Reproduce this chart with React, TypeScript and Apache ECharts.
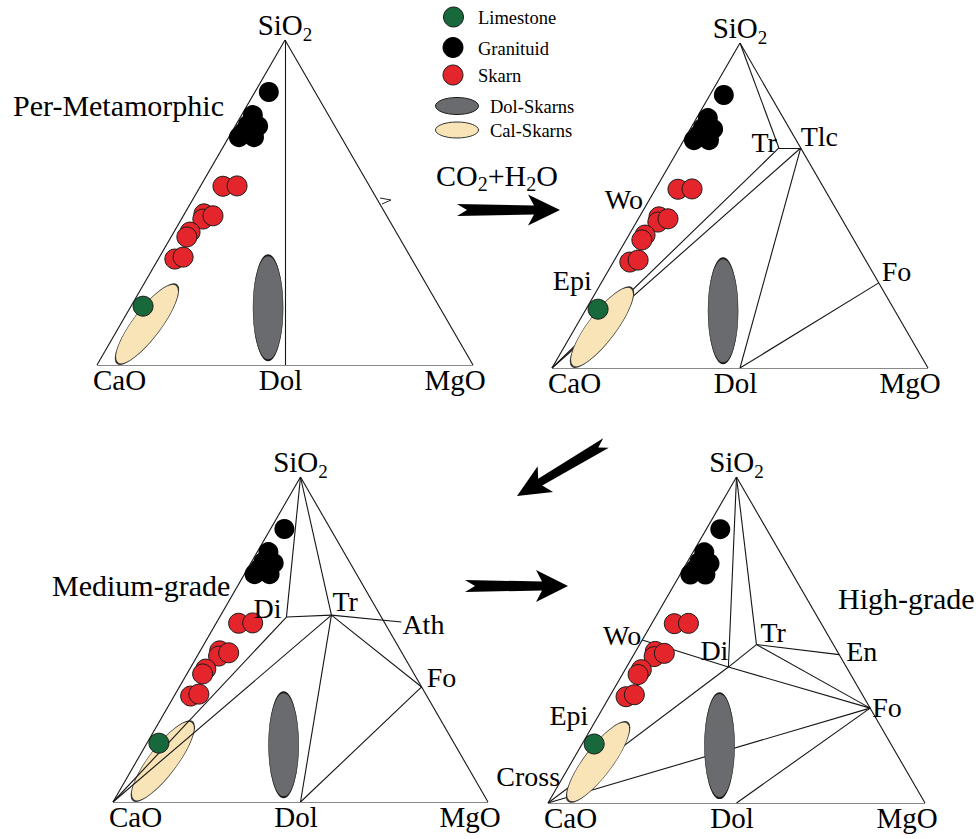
import React, { useEffect, useRef } from 'react';
import * as echarts from 'echarts';

const FONT = '"Liberation Serif", "Times New Roman", Times, serif';

// ---- Data: ternary compositions [CaO, MgO, SiO2] (%) ----
const vertexComps: Record<string, number[]> = {
  CaO: [100, 0, 0],
  MgO: [0, 100, 0],
  SiO2: [0, 0, 100],
  Dol: [50, 50, 0],
};

const limestone = [[78.7, 3.2, 18.1]];
const granituid = [
  [12.3, 3.7, 84.0],
  [20.1, 3.0, 76.9],
  [22.9, 3.2, 73.9],
  [20.4, 6.1, 73.5],
  [27.2, 2.7, 70.1],
  [23.2, 6.7, 70.1],
  [25.1, 3.2, 71.7],
];
const skarn = [
  [39.0, 6.0, 55.0],
  [35.2, 9.7, 55.1],
  [48.3, 5.2, 46.5],
  [49.4, 5.7, 44.9],
  [46.2, 7.9, 45.9],
  [54.8, 4.3, 40.9],
  [56.4, 4.2, 39.4],
  [63.0, 4.4, 32.6],
  [60.5, 6.3, 33.2],
];
const dolSkarns = [[45.7, 36.7, 17.6]];
const calSkarns = [[80.4, 7.0, 12.6]];

// mineral phases per panel
const panel1Minerals: Record<string, number[]> = {};
const panel2Minerals: Record<string, number[]> = {
  Tr: [5.8, 26.5, 67.7],
  Tlc: [0, 32.3, 67.7],
  Wo: [50, 0, 50],
  Epi: [73, 0, 27],
  Fo: [0, 73.8, 26.2],
};
const panel3Minerals: Record<string, number[]> = {
  Di: [25.3, 17.8, 56.9],
  Tr: [13.0, 29.5, 57.5],
  Ath: [-4.6, 49.2, 55.4],
  Fo: [0, 64.6, 35.4],
};
const panel4Minerals: Record<string, number[]> = {
  Wo: [50, 0, 50],
  Di: [31.3, 27.0, 41.7],
  Tr: [20.4, 31.0, 48.6],
  En: [0, 54.5, 45.5],
  Fo: [0, 70.9, 29.1],
  Epi: [73.3, 0, 26.7],
  Cross: [92, 0, 8],
};

const outlineEdges = [['CaO', 'MgO'], ['MgO', 'SiO2'], ['SiO2', 'CaO']];
const panel1Tielines = [['SiO2', 'Dol']];
const panel2Tielines = [['SiO2', 'Tr'], ['Tr', 'Tlc'], ['CaO', 'Tr'], ['CaO', 'Tlc'], ['Tlc', 'Dol'], ['Dol', 'Fo']];
const panel3Tielines = [['SiO2', 'Di'], ['SiO2', 'Tr'], ['Di', 'Tr'], ['Tr', 'Ath'], ['Tr', 'Fo'], ['Tr', 'Dol'], ['Dol', 'Fo'], ['CaO', 'Di'], ['CaO', 'Tr']];
const panel4Tielines = [['SiO2', 'Di'], ['SiO2', 'Tr'], ['Wo', 'Di'], ['Di', 'Fo'], ['Di', 'Tr'], ['Tr', 'En'], ['Tr', 'Fo'], ['CaO', 'Di'], ['CaO', 'Fo'], ['Dol', 'Fo']];

const panelTitles = ['Per-Metamorphic', '', 'Medium-grade', 'High-grade'];
const legendNames = ['Limestone', 'Granituid', 'Skarn', 'Dol-Skarns', 'Cal-Skarns'];

// ---- Layout / style (not data) ----
type LL = [string, number, number];
const vertexLabelLayout: Record<string, LL> = {
  SiO2: ['center', 0, -15],
  CaO: ['left', -4, 15],
  Dol: ['center', -4.5, 15],
  MgO: ['center', -18, 15],
};
const mineralLabelLayout: Record<string, LL>[] = [
  {},
  { Tr: ['right', -2, -5], Tlc: ['left', 0, -11], Fo: ['left', 3, -11], Wo: ['right', -3, -6], Epi: ['right', -11, 0] },
  { Di: ['right', -5, -9], Tr: ['left', 1, -14], Ath: ['left', 1, 3], Fo: ['left', 5, -9] },
  { Wo: ['right', -1, -5], Di: ['right', 0, -17], Tr: ['left', 4, -12], En: ['left', 7, -3], Fo: ['left', 2, -1], Epi: ['right', -10, 0], Cross: ['right', -3, 0] },
];

const PANELS = [
  { grid: { left: 97, top: 40, width: 376, height: 325 }, minerals: panel1Minerals, tielines: panel1Tielines, linesOnTop: false },
  { grid: { left: 552, top: 43, width: 376, height: 325 }, minerals: panel2Minerals, tielines: panel2Tielines, linesOnTop: false },
  { grid: { left: 113, top: 477, width: 375, height: 325 }, minerals: panel3Minerals, tielines: panel3Tielines, linesOnTop: true },
  { grid: { left: 548, top: 477, width: 377, height: 326 }, minerals: panel4Minerals, tielines: panel4Tielines, linesOnTop: false },
];
const titleLayout = [
  { x: 13, y: 105 },
  null,
  { x: 52, y: 585 },
  { x: 838, y: 598 },
];

const COLORS = {
  line: '#151515',
  text: '#000000',
  limestone: '#17683a',
  granituid: '#000000',
  skarn: '#e4252b',
  dol: '#6a6b6e',
  cal: '#f8e4b6',
  border: '#1b1b1b',
};

const ELLIPSE = 'path://M50,0 C77.6,0 100,22.4 100,50 C100,77.6 77.6,100 50,100 C22.4,100 0,77.6 0,50 C0,22.4 22.4,0 50,0 Z';

function toXY(c: number[]): [number, number] {
  const s = c[0] + c[1] + c[2];
  const mg = c[1] / s;
  const si = c[2] / s;
  return [mg + si / 2, si];
}

const NO_BORDER = { textBorderWidth: 0, textBorderColor: 'transparent', textShadowBlur: 0, textShadowColor: 'transparent' };

const SUB_RICH = (size: number, sub: number, pad: number) => ({
  m: { fontSize: size, fontFamily: FONT, color: COLORS.text, ...NO_BORDER },
  s: { fontSize: sub, fontFamily: FONT, color: COLORS.text, padding: [pad, 0, 0, 0], ...NO_BORDER },
});

function arrowShape(tail: number[], tip: number[], shaftW: number, headL: number, headW: number, notch: number) {
  const dx = tip[0] - tail[0];
  const dy = tip[1] - tail[1];
  const L = Math.hypot(dx, dy);
  const ux = dx / L, uy = dy / L;
  const nx = -uy, ny = ux;
  const P = (t: number, s: number) => [tail[0] + ux * t + nx * s, tail[1] + uy * t + ny * s];
  return [
    P(L, 0),
    P(L - headL, headW / 2),
    P(L - headL + 6, shaftW / 2),
    P(0, shaftW / 2 + 1.5),
    P(notch, 0),
    P(0, -shaftW / 2 - 1.5),
    P(L - headL + 6, -shaftW / 2),
    P(L - headL, -headW / 2),
  ];
}

function textLabel(text: string, size: number, align: string, dx: number, dy: number, rich?: any) {
  return {
    show: true,
    formatter: text,
    position: [dx, dy],
    align,
    verticalAlign: 'middle',
    fontSize: size,
    fontFamily: FONT,
    fontWeight: 'normal',
    color: COLORS.text,
    opacity: 1,
    ...NO_BORDER,
    rich: rich || {},
  };
}

function buildOption() {
  const grid: any[] = [];
  const xAxis: any[] = [];
  const yAxis: any[] = [];
  const series: any[] = [];

  PANELS.forEach((p, i) => {
    grid.push({ ...p.grid });
    xAxis.push({ type: 'value', gridIndex: i, min: 0, max: 1, show: false });
    yAxis.push({ type: 'value', gridIndex: i, min: 0, max: 1, show: false });
    const pts: Record<string, number[]> = { ...vertexComps, ...p.minerals };
    const segs = [...outlineEdges, ...p.tielines].map(([a, b]) => ({
      coords: [toXY(pts[a]), toXY(pts[b])],
    }));
    series.push({
      type: 'lines',
      coordinateSystem: 'cartesian2d',
      xAxisIndex: i,
      yAxisIndex: i,
      silent: true,
      z: p.linesOnTop ? 4 : 2,
      lineStyle: { color: COLORS.line, width: 1.1, opacity: 1, curveness: 0 },
      data: segs,
    });
    const base = { type: 'scatter', xAxisIndex: i, yAxisIndex: i, silent: true };
    series.push({
      ...base, name: 'Cal-Skarns', z: 3, symbol: ELLIPSE, symbolSize: [98, 28], symbolRotate: 53,
      itemStyle: { color: COLORS.cal, borderColor: '#333', borderWidth: 1, opacity: 1 },
      data: calSkarns.map(toXY),
    });
    series.push({
      ...base, name: 'Dol-Skarns', z: 3, symbol: ELLIPSE, symbolSize: [30, 105],
      itemStyle: { color: COLORS.dol, borderColor: COLORS.border, borderWidth: 1, opacity: 1 },
      data: dolSkarns.map(toXY),
    });
    series.push({
      ...base, name: 'Granituid', z: 5, symbol: 'circle', symbolSize: 20,
      itemStyle: { color: COLORS.granituid, opacity: 1 },
      data: granituid.map(toXY),
    });
    series.push({
      ...base, name: 'Skarn', z: 5, symbol: 'circle', symbolSize: 20,
      itemStyle: { color: COLORS.skarn, borderColor: COLORS.border, borderWidth: 1, opacity: 1 },
      data: skarn.map(toXY),
    });
    series.push({
      ...base, name: 'Limestone', z: 5, symbol: 'circle', symbolSize: 20,
      itemStyle: { color: COLORS.limestone, borderColor: COLORS.border, borderWidth: 1, opacity: 1 },
      data: limestone.map(toXY),
    });

    // labels
    const labelData: any[] = [];
    Object.keys(vertexComps).forEach((name) => {
      const [align, dx, dy] = vertexLabelLayout[name];
      const isSi = name === 'SiO2';
      labelData.push({
        name,
        value: toXY(vertexComps[name]),
        label: isSi
          ? textLabel('{m|SiO}{s|2}', 29, align, dx, dy, SUB_RICH(29, 19, 18))
          : textLabel(name, 29, align, dx, dy),
      });
    });
    const ml = mineralLabelLayout[i];
    Object.keys(p.minerals).forEach((name) => {
      const lay = ml[name];
      if (!lay) return;
      const [align, dx, dy] = lay;
      labelData.push({
        name,
        value: toXY(p.minerals[name]),
        label: textLabel(name, 28, align, dx, dy),
      });
    });
    series.push({
      ...base, name: 'labels' + i, z: 6, symbol: 'circle', symbolSize: 0,
      itemStyle: { color: '#000', opacity: 1 },
      label: { show: true, fontFamily: FONT, color: COLORS.text, ...NO_BORDER },
      data: labelData,
    });
  });

  const graphic: any[] = [];
  // titles
  panelTitles.forEach((t, i) => {
    const pos = titleLayout[i];
    if (!t || !pos) return;
    graphic.push({
      type: 'text', x: pos.x, y: pos.y, silent: true,
      style: { text: t, fontSize: 30, fontFamily: FONT, fill: COLORS.text, align: 'left', verticalAlign: 'middle' },
    });
  });
  // legend
  const legendStyles = [
    { kind: 'circle', fill: COLORS.limestone, stroke: COLORS.border, cx: 453.5, cy: 17, r: 10, tx: 478, ty: 18 },
    { kind: 'circle', fill: COLORS.granituid, stroke: '#000', cx: 453, cy: 47.5, r: 10, tx: 478, ty: 49 },
    { kind: 'circle', fill: COLORS.skarn, stroke: COLORS.border, cx: 453, cy: 75, r: 10, tx: 478, ty: 76 },
    { kind: 'ellipse', fill: COLORS.dol, stroke: COLORS.border, cx: 457, cy: 106, r: 21.5, ry: 8.5, tx: 490, ty: 107 },
    { kind: 'ellipse', fill: COLORS.cal, stroke: '#333', cx: 457, cy: 130, r: 21.5, ry: 8, tx: 490, ty: 131 },
  ];
  legendNames.forEach((n, i) => {
    const s: any = legendStyles[i];
    graphic.push(
      s.kind === 'circle'
        ? { type: 'circle', silent: true, shape: { cx: s.cx, cy: s.cy, r: s.r }, style: { fill: s.fill, stroke: s.stroke, lineWidth: 1 } }
        : { type: 'ellipse', silent: true, shape: { cx: s.cx, cy: s.cy, rx: s.r, ry: s.ry }, style: { fill: s.fill, stroke: s.stroke, lineWidth: 1 } }
    );
    graphic.push({
      type: 'text', x: s.tx, y: s.ty, silent: true,
      style: { text: n, fontSize: 18.5, fontFamily: FONT, fill: COLORS.text, align: 'left', verticalAlign: 'middle' },
    });
  });
  // reaction text
  graphic.push({
    type: 'text', x: 436, y: 175, silent: true,
    style: {
      text: '{m|CO}{s|2}{m|+H}{s|2}{m|O}',
      rich: SUB_RICH(30, 20, 17),
      align: 'left', verticalAlign: 'middle', fontFamily: FONT,
    },
  });
  // arrows
  const arrows = [
    arrowShape([457, 210], [560, 210], 9, 32, 31, 10),
    arrowShape([606, 443], [517, 496], 8, 33, 30, 9),
    arrowShape([465, 586], [568, 586], 9, 32, 32, 10),
  ];
  arrows.forEach((pts) => {
    graphic.push({ type: 'polygon', silent: true, shape: { points: pts }, style: { fill: '#000' } });
  });
  // small stroke mark on panel 1 right edge
  graphic.push({
    type: 'polyline', silent: true,
    shape: { points: [[380, 198], [391, 200], [382, 204]] },
    style: { stroke: '#222', lineWidth: 1, fill: null },
  });

  return {
    animation: false,
    backgroundColor: '#ffffff',
    textStyle: { fontFamily: FONT },
    grid,
    xAxis,
    yAxis,
    series,
    graphic,
  };
}

export default function App() {
  const ref = useRef<HTMLDivElement>(null);
  useEffect(() => {
    if (!ref.current) return;
    const chart = echarts.init(ref.current, undefined, { renderer: 'svg' });
    chart.setOption(buildOption() as any);
    return () => chart.dispose();
  }, []);
  return (
    <div
      ref={ref}
      style={{ position: 'absolute', left: 0, top: 0, width: 979, height: 839, background: '#fff' }}
    />
  );
}
